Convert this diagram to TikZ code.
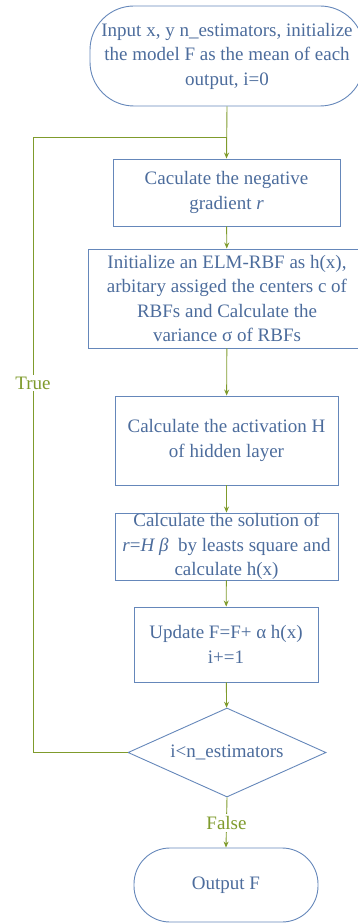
\documentclass[tikz,border=0pt]{standalone}
\usepackage{fontspec}
\setmainfont{Liberation Serif}
\usetikzlibrary{shapes.geometric,arrows.meta}
\definecolor{boxc}{HTML}{6587BA}
\definecolor{txtc}{HTML}{4C6C9C}
\definecolor{linec}{HTML}{7F9B2C}
\tikzset{
  base/.style={draw=boxc, line width=0.9pt, text=txtc, align=center, inner sep=0pt,
    font=\fontsize{19}{24.5}\selectfont},
  proc/.style={base, rectangle},
  term/.style={base, rectangle, rounded corners=#1},
  dec/.style={base, diamond, aspect=2.2},
  conn/.style={draw=linec, line width=0.9pt},
  arr/.style={conn, -{Stealth[length=6pt,width=5pt]}},
  lbl/.style={text=linec, fill=white, inner sep=2pt, font=\fontsize{19}{22}\selectfont}
}
\begin{document}
\begin{tikzpicture}[x=1pt,y=-1pt]
\useasboundingbox (0,0) rectangle (358,923);
\node[term=44pt, minimum width=274pt, minimum height=100pt] (start) at (227,56)
  {Input x, y n\_estimators, initialize\\the model F as the mean of each\\output, i=0};
\node[proc, minimum width=227pt, minimum height=67pt] (b1) at (226.5,192.5)
  {Caculate the negative\\gradient \textit{r}};
\node[proc, minimum width=278pt, minimum height=99pt] (b2) at (227,298.5)
  {Initialize an ELM-RBF as h(x),\\arbitary assiged the centers c of\\RBFs and Calculate the\\variance σ of RBFs};
\node[proc, minimum width=223pt, minimum height=89pt] (b3) at (226.5,440.5)
  {Calculate the activation H\\of hidden layer};
\node[proc, minimum width=223pt, minimum height=67pt] (b4) at (226.5,546.5)
  {Calculate the solution of\\\textit{r}=\textit{H β} \ by leasts square and\\calculate h(x)};
\node[proc, minimum width=184pt, minimum height=75pt] (b5) at (226,644.5)
  {Update F=F+ α h(x)\\i+=1};
\node[dec, minimum width=198pt, minimum height=89pt] (dia) at (227,752.5)
  {i<n\_estimators};
\node[term=36pt, minimum width=184pt, minimum height=74pt] (out) at (226,885)
  {Output F};

\coordinate (j) at (227,137);
\coordinate (lc) at (33,137);

\draw[arr] (start.south) -- (b1.north);
\draw[arr] (b1) -- (b2);
\draw[arr] (b2) -- (b3);
\draw[arr] (b3) -- (b4);
\draw[arr] (b4) -- (b5);
\draw[arr] (b5) -- (dia);
\draw[arr] (dia.south) -- node[lbl, pos=0.51] (f) {False} (out.north);
\draw[conn] (dia.west) -| (lc) -- (j);
\node[lbl] (t) at (33,383) {True};
\end{tikzpicture}
\end{document}
